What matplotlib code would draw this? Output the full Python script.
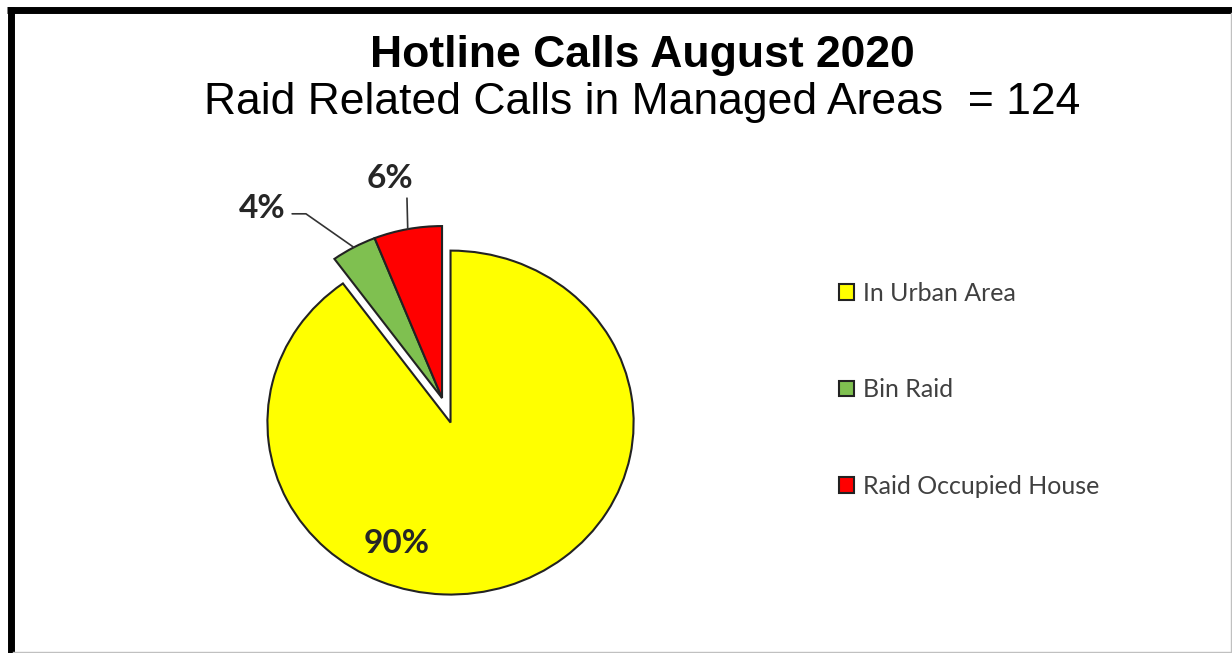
import matplotlib.pyplot as plt
from matplotlib.lines import Line2D
import numpy as np

# hotline calls, aug 2020 (raid related, managed areas, n = 124)
labels = ['In Urban Area', 'Bin Raid', 'Raid Occupied House']
shares = [90, 4, 6]
pct_text = ['90%', '4%', '6%']
colors = ['#FFFF00', '#7FC050', '#FF0000']
explode = [0.15, 0, 0]

W, H = 1232, 653
fig = plt.figure(figsize=(W / 100, H / 100), dpi=100)

# pie axes, slightly wider than tall like the original picture
ax = fig.add_axes([0.1656, 0.0481, 0.3864, 0.6847])
wedges, _ = ax.pie(shares, colors=colors, explode=explode, startangle=90,
                   counterclock=False,
                   wedgeprops=dict(edgecolor='#222222', linewidth=1.5))
ax.set_aspect('auto')
ax.set_xlim(-1.3, 1.3)
ax.set_ylim(-1.3, 1.3)

def arc_mid(w):
    a = np.deg2rad((w.theta1 + w.theta2) / 2)
    cx, cy = w.center
    return cx + w.r * np.cos(a), cy + w.r * np.sin(a)

lab_font = dict(family='Lato', weight='bold', size=24, color='#262626')

# 90% sits inside the yellow slice
ax.text(-0.246, -0.843, pct_text[0], ha='center', va='center', **lab_font)

# 4% with bent leader line
ax.annotate(pct_text[1], xy=arc_mid(wedges[1]), xytext=(-0.984, 1.105),
            ha='center', va='center', **lab_font,
            arrowprops=dict(arrowstyle='-', color='#333333', lw=1.2,
                            connectionstyle='angle,angleA=0,angleB=-35,rad=0',
                            relpos=(1.0, 0.3), shrinkA=3, shrinkB=0))

# 6% with straight leader line
ax.annotate(pct_text[2], xy=arc_mid(wedges[2]), xytext=(-0.284, 1.279),
            ha='center', va='center', **lab_font,
            arrowprops=dict(arrowstyle='-', color='#333333', lw=1.2,
                            relpos=(0.86, 0.0), shrinkA=2, shrinkB=0))

fig.text(0.5211, 0.8974, 'Hotline Calls August 2020', ha='center', va='baseline',
         family='Liberation Sans', weight='bold', size=32, color='black')
fig.text(0.5211, 0.8254, 'Raid Related Calls in Managed Areas  = 124', ha='center',
         va='baseline', family='Liberation Sans', size=32, color='black')

fig.legend(wedges, labels, loc='center left', bbox_to_anchor=(0.671, 0.403),
           frameon=False, prop=dict(family='Lato', size=18), labelcolor='#404040',
           handlelength=0.6, handleheight=0.6, handletextpad=0.35,
           labelspacing=2.94, borderpad=0)

# frame round the chart: heavy black top/left, thin grey right/bottom
fig.add_artist(Line2D([7 / W, 1], [1 - 10 / H, 1 - 10 / H], color='black', lw=5,
                      transform=fig.transFigure, solid_capstyle='butt'))
fig.add_artist(Line2D([10.5 / W, 10.5 / W], [0, 1 - 7 / H], color='black', lw=5,
                      transform=fig.transFigure, solid_capstyle='butt'))
fig.add_artist(Line2D([1230.5 / W, 1230.5 / W], [0, 1 - 13 / H], color='#c0c0c0', lw=1,
                      transform=fig.transFigure))
fig.add_artist(Line2D([13 / W, 1], [1.5 / H, 1.5 / H], color='#c0c0c0', lw=1,
                      transform=fig.transFigure))

fig.savefig('out.png', dpi=100)
